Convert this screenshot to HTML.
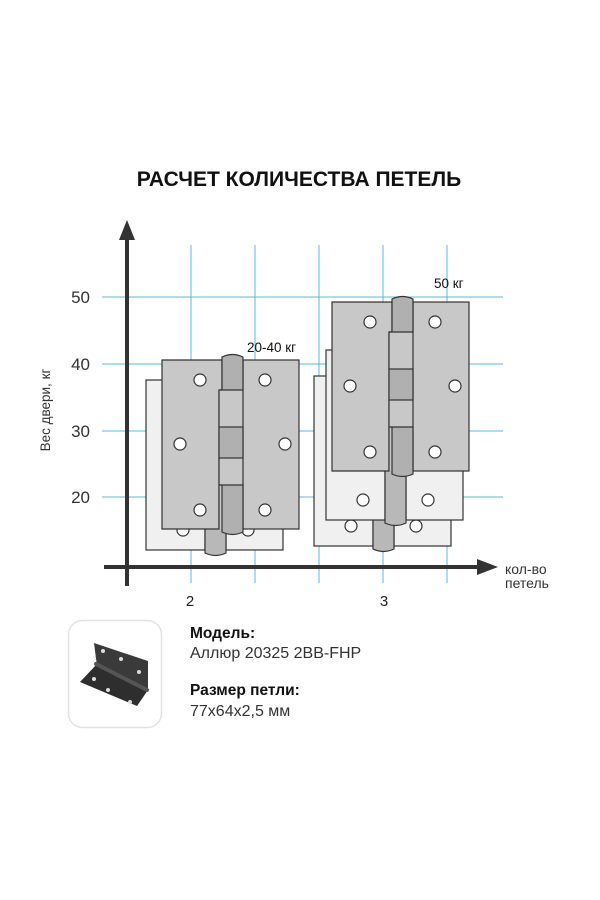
<!DOCTYPE html>
<html><head><meta charset="utf-8"><style>
html,body{margin:0;padding:0;background:#fff;width:600px;height:900px;overflow:hidden}
svg{display:block}
</style></head><body>
<svg width="600" height="900" viewBox="0 0 600 900" xmlns="http://www.w3.org/2000/svg" font-family="Liberation Sans, DejaVu Sans, sans-serif">
<defs>
<g id="front">
  <path d="M0 0 H60 V30 H57 V169 H0 Z" fill="#c8c8c8" stroke="#333" stroke-width="1.2"/>
  <rect x="57" y="30" width="24" height="139" fill="#c8c8c8"/>
  <path d="M57 30 H60 M57 125 H60" stroke="#333" stroke-width="1.2"/>
  <rect x="81" y="0" width="56" height="169" fill="#c8c8c8" stroke="#333" stroke-width="1.2"/>
  <path d="M60 30 V-3 Q70.5 -8 81 -3 V30 Z" fill="#b0b0b0" stroke="#333" stroke-width="1.2"/>
  <rect x="57" y="67" width="24" height="31" fill="#b0b0b0" stroke="#333" stroke-width="1.2"/>
  <path d="M60 125 V172 Q70.5 177 81 172 V125 Z" fill="#b0b0b0" stroke="#333" stroke-width="1.2"/>
  <line x1="57" y1="30" x2="57" y2="67" stroke="#333" stroke-width="1.2"/>
  <line x1="57" y1="98" x2="57" y2="169" stroke="#333" stroke-width="1.2"/>
  <g fill="#fff" stroke="#333" stroke-width="1.2">
    <circle cx="38" cy="20" r="6"/><circle cx="18" cy="84" r="6"/><circle cx="38" cy="150" r="6"/>
    <circle cx="103" cy="20" r="6"/><circle cx="123" cy="84" r="6"/><circle cx="103" cy="150" r="6"/>
  </g>
</g>
<g id="back">
  <rect x="0" y="0" width="59" height="170" fill="#f0f0f0" stroke="#333" stroke-width="1.2"/>
  <rect x="80" y="0" width="57" height="170" fill="#f0f0f0" stroke="#333" stroke-width="1.2"/>
  <path d="M59 120 V173 Q69.5 178 80 173 V120 Z" fill="#b8b8b8" stroke="#333" stroke-width="1.2"/>
  <g fill="#fff" stroke="#333" stroke-width="1.2">
    <circle cx="37" cy="150" r="6"/><circle cx="102" cy="150" r="6"/>
  </g>
</g>
</defs>

<text x="299" y="186" text-anchor="middle" font-size="21" font-weight="bold" fill="#111">РАСЧЕТ КОЛИЧЕСТВА ПЕТЕЛЬ</text>

<g stroke="#5bb8dc" stroke-width="1">
  <line x1="102" y1="297" x2="503" y2="297"/>
  <line x1="102" y1="364" x2="503" y2="364"/>
  <line x1="102" y1="431" x2="503" y2="431"/>
  <line x1="102" y1="497" x2="503" y2="497"/>
  <line x1="191" y1="245" x2="191" y2="583"/>
  <line x1="255" y1="245" x2="255" y2="583"/>
  <line x1="319" y1="245" x2="319" y2="583"/>
  <line x1="383" y1="245" x2="383" y2="583"/>
  <line x1="447" y1="245" x2="447" y2="583"/>
</g>

<use href="#back" transform="translate(146,380)"/>
<use href="#front" transform="translate(162,360)"/>
<use href="#back" transform="translate(314,376)"/>
<use href="#back" transform="translate(326,350)"/>
<use href="#front" transform="translate(332,302)"/>

<line x1="127" y1="586" x2="127" y2="236" stroke="#333" stroke-width="4"/>
<polygon points="127,220 119,240 135,240" fill="#333"/>
<line x1="104" y1="567" x2="482" y2="567" stroke="#333" stroke-width="4"/>
<polygon points="498,567 477,559 477,575" fill="#333"/>

<g font-size="17" fill="#333" text-anchor="end">
  <text x="90" y="303">50</text>
  <text x="90" y="370">40</text>
  <text x="90" y="437">30</text>
  <text x="90" y="503">20</text>
</g>
<text transform="translate(50,410) rotate(-90)" text-anchor="middle" font-size="13.5" fill="#333">Вес двери, кг</text>
<text x="190" y="606" text-anchor="middle" font-size="15" fill="#222">2</text>
<text x="384" y="606" text-anchor="middle" font-size="15" fill="#222">3</text>
<text x="505" y="574" font-size="14" fill="#333">кол-во</text>
<text x="505" y="588" font-size="14" fill="#333">петель</text>
<text x="247" y="352" font-size="13.5" fill="#111">20-40 кг</text>
<text x="434" y="288" font-size="13.5" fill="#111">50 кг</text>

<rect x="68.5" y="620.5" width="93" height="107" rx="14" fill="#fff" stroke="#e2e2e2" stroke-width="1.5"/>
<polygon points="94,643 148,661 148,690 97,666" fill="#3a3a3a"/>
<polygon points="80,682 97,664 148,690 137,706" fill="#2e2e2e"/>
<line x1="96" y1="664" x2="147" y2="690" stroke="#555" stroke-width="4" stroke-linecap="round"/>
<g fill="#ddd"><circle cx="103" cy="651" r="2"/><circle cx="121" cy="659" r="2"/><circle cx="139" cy="672" r="2"/>
<circle cx="94" cy="679" r="2"/><circle cx="108" cy="690" r="2"/><circle cx="130" cy="702" r="2"/></g>

<text x="190" y="638" font-size="15.5" font-weight="bold" fill="#111">Модель:</text>
<text x="190" y="658" font-size="16" fill="#333">Аллюр 20325 2BB-FHP</text>
<text x="190" y="695" font-size="15.5" font-weight="bold" fill="#111">Размер петли:</text>
<text x="190" y="716" font-size="16" fill="#333">77x64x2,5 мм</text>
</svg>
</body></html>
